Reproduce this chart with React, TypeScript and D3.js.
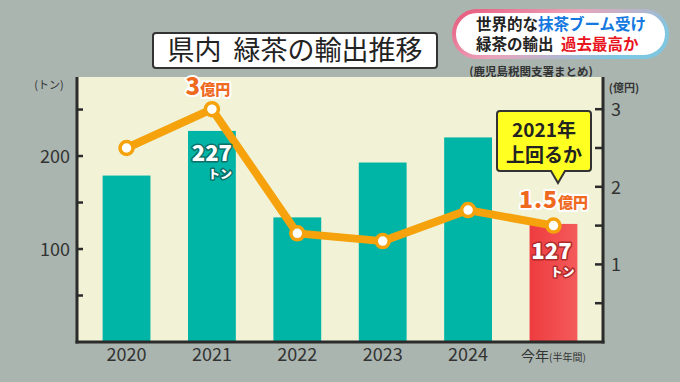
import React from "react";
import * as d3 from "d3";

const categories = ["2020", "2021", "2022", "2023", "2024", "今年"];
const tons = [179, 227, 134, 193, 220, 127];
const oku = [2.5, 3.0, 1.4, 1.3, 1.7, 1.5];
const leftTicks = [50, 100, 150, 200, 250];
const leftLabels = [100, 200];
const rightTicks = [0.5, 1, 1.5, 2, 2.5, 3];
const rightLabels = [1, 2, 3];

const W = 680, H = 382;
const FONT = "'Noto Sans CJK JP', 'Noto Sans', sans-serif";

export default function App() {
  const L = 77, R = 603, T = 77, B = 342;
  const x = d3.scaleBand<string>().domain(categories).range([L, R]).paddingInner(0.44).paddingOuter(0.3);
  const yL = d3.scaleLinear().domain([0, 285]).range([B, T]);
  const yR = d3.scaleLinear().domain([0, 3.415]).range([B, T]);
  const cx = (c: string) => (x(c) as number) + x.bandwidth() / 2;
  const line = d3.line<number>().x((_, i) => cx(categories[i])).y((d) => yR(d));

  const last = categories.length - 1;

  return (
    <svg width={W} height={H} style={{ position: "absolute", left: 0, top: 0, fontFamily: FONT }}>
      <defs>
        <linearGradient id="pill" x1="0" x2="1" y1="0" y2="0.4">
          <stop offset="0" stopColor="#e8587a" />
          <stop offset="0.5" stopColor="#eaa4bb" />
          <stop offset="1" stopColor="#7fc6e0" />
        </linearGradient>
        <linearGradient id="redbar" x1="0" x2="1">
          <stop offset="0" stopColor="#ee3c40" />
          <stop offset="1" stopColor="#f45a5a" />
        </linearGradient>
      </defs>
      <rect x={0} y={0} width={W} height={H} fill="#aab5af" />

      {/* badge */}
      <rect x={454} y={11} width={213} height={46} rx={23} fill="#fff" stroke="url(#pill)" strokeWidth={4} />
      <text x={476} y={30} fontSize={15.5} fontWeight={700} fill="#222">
        世界的な<tspan fill="#1478e0">抹茶ブーム受け</tspan>
      </text>
      <text x={476} y={50} fontSize={15.5} fontWeight={700} fill="#222">
        緑茶の輸出 <tspan fill="#e8141e" dx={4}>過去最高か</tspan>
      </text>

      {/* title */}
      <rect x={153} y={33} width={284} height={35} rx={3} fill="#fff" stroke="#333" strokeWidth={2} />
      <text x={295} y={60} fontSize={27} fontWeight={400} fill="#222" textAnchor="middle" xmlSpace="preserve">県内  緑茶の輸出推移</text>

      <text x={531} y={76} fontSize={11.5} fontWeight={700} fill="#333" textAnchor="middle">(鹿児島税関支署まとめ)</text>

      {/* plot area */}
      <rect x={L} y={T} width={R - L} height={B - T} fill="#f1f2d6" />

      {/* bars */}
      {tons.map((v, i) => (
        <rect key={i} x={x(categories[i])} y={yL(v)} width={x.bandwidth()} height={B - yL(v)}
          fill={i === last ? "url(#redbar)" : "#00b4a6"} />
      ))}

      {/* axes */}
      <line x1={L} x2={L} y1={T} y2={B + 1.5} stroke="#2b2b2b" strokeWidth={3} />
      <line x1={R} x2={R} y1={T} y2={B + 1.5} stroke="#2b2b2b" strokeWidth={3} />
      <line x1={L - 1.5} x2={R + 1.5} y1={B} y2={B} stroke="#2b2b2b" strokeWidth={3} />
      {leftTicks.map((t) => (
        <line key={t} x1={L} x2={L + 6} y1={yL(t)} y2={yL(t)} stroke="#2b2b2b" strokeWidth={2.5} />
      ))}
      {rightTicks.map((t) => (
        <line key={t} x1={R - 8} x2={R} y1={yR(t)} y2={yR(t)} stroke="#2b2b2b" strokeWidth={2.5} />
      ))}
      {leftLabels.map((t) => (
        <text key={t} x={70} y={yL(t) + 6.5} fontSize={18} fill="#333" textAnchor="end">{t}</text>
      ))}
      {rightLabels.map((t) => (
        <text key={t} x={611} y={yR(t) + 7} fontSize={18} fill="#333">{t}</text>
      ))}
      <text x={49} y={89} fontSize={11} fill="#333" textAnchor="middle">(トン)</text>
      <text x={624} y={92} fontSize={11} fontWeight={700} fill="#333" textAnchor="middle">(億円)</text>

      {categories.map((c, i) => (
        i === last ? (
          <text key={c} x={cx(c)} y={361} fontSize={14} fill="#333" textAnchor="middle">
            {c}<tspan fontSize={10}>(半年間)</tspan>
          </text>
        ) : (
          <text key={c} x={cx(c)} y={361} fontSize={18} fill="#333" textAnchor="middle">{c}</text>
        )
      ))}

      {/* line */}
      <path d={line(oku) as string} fill="none" stroke="#f5a20c" strokeWidth={8} strokeLinejoin="round" />
      {oku.map((v, i) => (
        <circle key={i} cx={cx(categories[i])} cy={yR(v)} r={6.5} fill="#fff" stroke="#f5a20c" strokeWidth={3.5} />
      ))}

      {/* value labels */}
      <g fontWeight={900} stroke="#fff" strokeWidth={4} paintOrder="stroke" strokeLinejoin="round" fill="#ef6a1f">
        <text x={cx("2021") - 4} y={95} textAnchor="middle">
          <tspan fontSize={24}>{oku[1]}</tspan><tspan fontSize={15}>億円</tspan>
        </text>
        <text x={cx("今年")} y={208} textAnchor="middle">
          <tspan fontSize={23} letterSpacing={1}>{oku[last].toFixed(1)}</tspan><tspan fontSize={15}>億円</tspan>
        </text>
      </g>
      <g fontWeight={900} fill="#fff" stroke="#0d6f67" strokeWidth={3} paintOrder="stroke" strokeLinejoin="round">
        <text x={cx("2021")} y={161} fontSize={22} textAnchor="middle">{tons[1]}</text>
        <text x={cx("2021") + 20} y={179} fontSize={12} textAnchor="end">トン</text>
      </g>
      <g fontWeight={900} fill="#fff" stroke="#b02a2a" strokeWidth={3} paintOrder="stroke" strokeLinejoin="round">
        <text x={cx("今年") - 2} y={259} fontSize={22} textAnchor="middle">{tons[last]}</text>
        <text x={cx("今年") + 21} y={277} fontSize={12} textAnchor="end">トン</text>
      </g>

      {/* callout */}
      <path d="M500,111 H588 Q591,111 591,114 V168 Q591,171 588,171 H565 L558,183 L551,171 H500 Q497,171 497,168 V114 Q497,111 500,111 Z"
        fill="#ffff22" stroke="#333" strokeWidth={2} />
      <text x={544} y={137} fontSize={19} fontWeight={700} fill="#222" textAnchor="middle">2021年</text>
      <text x={544} y={162} fontSize={19} fontWeight={700} fill="#222" textAnchor="middle">上回るか</text>
    </svg>
  );
}
